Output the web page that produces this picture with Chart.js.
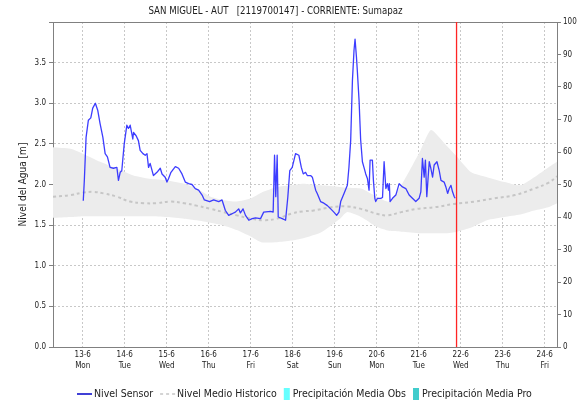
<!DOCTYPE html>
<html lang="es">
<head>
<meta charset="utf-8">
<title>SAN MIGUEL - AUT - Nivel del Agua</title>
<script src="https://cdn.jsdelivr.net/npm/chart.js@4.4.0/dist/chart.umd.min.js"></script>
<style>
  html, body { margin: 0; padding: 0; background: #fff; }
  #contenedor { width: 582px; height: 404px; }
</style>
</head>
<body>
<div id="contenedor"><canvas id="nivelChart" width="582" height="404"></canvas></div>
<script>
// nivel-san-miguel.js
// horas contadas desde el 13-6 a las 00:00

const fechas = ["13-6", "14-6", "15-6", "16-6", "17-6", "18-6", "19-6", "20-6", "21-6", "22-6", "23-6", "24-6"];
const diasSemana = ["Mon", "Tue", "Wed", "Thu", "Fri", "Sat", "Sun", "Mon", "Tue", "Wed", "Thu", "Fri"];

const nivelTicks = [0, 0.5, 1, 1.5, 2, 2.5, 3, 3.5, 4];
const precipTicks = [0, 10, 20, 30, 40, 50, 60, 70, 80, 90, 100];

const horaInicio = -17;
const horaFin = 271;
const horaActual = 213.6;

const sensorHoras = [
  0.3, 0.9, 1.9, 3.2, 4.6, 5.7, 7.2, 8.6, 9.9, 11.5, 12.8, 14.1, 15.6, 17.5, 19.5, 20.4, 21.4, 22.3,
  23.7, 25.2, 26.1, 27.1, 28.6, 29.0, 30.5, 31.8, 32.8, 34.4, 35.7, 36.7, 37.6, 38.5, 40.4, 42.4,
  44.3, 45.3, 47.1, 48.1, 49.0, 50.4, 52.9, 54.8, 56.7, 58.6, 60.5, 62.4, 64.3, 66.2, 68.2, 69.5,
  72.5, 74.8, 77.7, 79.6, 81.5, 83.4, 85.3, 87.2, 89.1, 90.1, 91.6, 93.0, 94.9, 96.8, 98.7, 101.6,
  103.4, 107.3, 108.8, 109.6, 110.3, 111.1, 111.7, 114.0, 115.9, 117.2, 118.3, 119.7, 121.6, 123.5,
  124.9, 126.0, 127.3, 128.3, 130.2, 131.2, 133.1, 134.0, 135.9, 137.8, 139.8, 141.7, 143.5, 145.1,
  146.4, 147.4, 149.3, 151.2, 152.1, 153.1, 154.1, 155.0, 155.6, 156.4, 156.9, 157.9, 158.8, 159.8,
  160.7, 161.7, 162.7, 163.6, 164.2, 165.5, 166.1, 166.9, 167.4, 168.4, 170.3, 171.3, 172.2, 173.2,
  174.1, 174.7, 175.2, 175.6, 177.0, 178.9, 180.8, 182.7, 184.6, 186.5, 188.4, 190.3, 192.2, 193.2,
  194.1, 195.1, 195.8, 196.6, 197.4, 198.0, 198.9, 199.9, 200.8, 202.4, 203.7, 204.7, 206.5, 207.5,
  208.5, 209.4, 210.4, 211.3, 212.3, 212.8
];
const sensorNivel = [
  1.80, 2.05, 2.58, 2.79, 2.82, 2.94, 3.00, 2.91, 2.75, 2.58, 2.38, 2.34, 2.21, 2.20, 2.21, 2.05, 2.15, 2.17,
  2.50, 2.73, 2.69, 2.73, 2.56, 2.64, 2.60, 2.54, 2.42, 2.38, 2.36, 2.38, 2.21, 2.26, 2.11, 2.15,
  2.20, 2.13, 2.09, 2.03, 2.07, 2.15, 2.22, 2.20, 2.13, 2.03, 2.01, 2.00, 1.95, 1.93, 1.87, 1.81,
  1.79, 1.81, 1.79, 1.81, 1.68, 1.62, 1.64, 1.66, 1.70, 1.65, 1.70, 1.62, 1.56, 1.58, 1.59, 1.58,
  1.66, 1.67, 1.66, 2.36, 1.85, 2.36, 1.60, 1.58, 1.56, 1.85, 2.17, 2.21, 2.38, 2.36,
  2.21, 2.13, 2.15, 2.11, 2.11, 2.09, 1.93, 1.89, 1.79, 1.77, 1.74, 1.70, 1.66, 1.62,
  1.66, 1.79, 1.89, 1.99, 2.21, 2.54, 3.28, 3.65, 3.79, 3.57, 3.40, 3.03, 2.55, 2.28,
  2.21, 2.13, 2.07, 1.93, 2.30, 2.30, 2.05, 1.83, 1.79, 1.83, 1.83, 1.84, 2.28, 1.95,
  2.01, 1.93, 2.01, 1.79, 1.83, 1.87, 2.01, 1.97, 1.95, 1.87, 1.83, 1.79, 1.83, 1.91,
  2.32, 2.09, 2.30, 1.85, 2.10, 2.28, 2.20, 2.09, 2.24, 2.28, 2.17, 2.05, 2.03, 1.97,
  1.89, 1.95, 1.99, 1.91, 1.85, 1.83
];

const historicoHoras = [
  -17, -7, 0, 6, 12, 19.5, 27, 35, 42, 50, 58, 65, 73, 80.5, 88, 96, 103.5, 111, 119, 126,
  132, 142, 151, 159, 168, 174, 182, 191, 201, 212, 224, 235, 247, 258, 266, 271
];
const historicoMedio = [
  1.85, 1.87, 1.90, 1.91, 1.89, 1.85, 1.79, 1.77, 1.77, 1.79, 1.77, 1.74, 1.70, 1.66, 1.62, 1.58, 1.56, 1.58, 1.64, 1.67,
  1.68, 1.72, 1.73, 1.70, 1.64, 1.62, 1.66, 1.70, 1.72, 1.76, 1.79, 1.83, 1.87, 1.95, 2.02, 2.10
];

const bandaHoras = [
  -17, -7, 0, 10, 20, 29, 38, 48, 58, 65, 73, 80, 88, 96, 102, 111, 119, 126,
  136, 147, 151, 159, 168, 175, 182, 193, 199, 207, 214, 222, 231, 241, 250, 258, 266, 271
];
const bandaMax = [
  2.46, 2.44, 2.38, 2.28, 2.19, 2.11, 2.07, 2.05, 2.01, 1.95, 1.85, 1.81, 1.79, 1.83, 1.90, 1.97, 1.99, 2.01,
  1.99, 1.97, 1.96, 1.95, 1.85, 1.79, 1.99, 2.42, 2.67, 2.50, 2.34, 2.15, 2.09, 2.03, 1.99, 2.09, 2.21, 2.28
];
const bandaMin = [
  1.59, 1.60, 1.61, 1.61, 1.61, 1.61, 1.61, 1.60, 1.58, 1.56, 1.53, 1.50, 1.44, 1.36, 1.29, 1.29, 1.31, 1.34,
  1.41, 1.58, 1.66, 1.60, 1.48, 1.43, 1.42, 1.40, 1.40, 1.40, 1.42, 1.47, 1.56, 1.60, 1.63, 1.68, 1.72, 1.77
];

const titulo = "SAN MIGUEL - AUT   [2119700147] - CORRIENTE: Sumapaz";
const fuente = '"DejaVu Sans Condensed", "Liberation Sans Narrow", "DejaVu Sans", sans-serif';

const puntos = (xs, ys) => xs.map((x, i) => ({ x: x, y: ys[i] }));

// titulo y leyenda dibujados a mano: lineas de 15 px y cajas estrechas para la precipitacion
const textosFijos = {
  id: "textosFijos",
  afterDraw(chart) {
    const ctx = chart.ctx;
    ctx.save();
    ctx.fillStyle = "#222";
    ctx.textBaseline = "middle";
    ctx.textAlign = "center";
    ctx.font = `9.6px ${fuente}`;
    ctx.fillText(titulo, 275.5, 11.5);

    const y = chart.height - 10;
    let x = 77;
    ctx.textAlign = "left";
    ctx.font = `10.5px ${fuente}`;
    chart.data.datasets.filter((d) => d.label).forEach((d) => {
      if (d.type === "bar") {
        ctx.fillStyle = d.backgroundColor;
        ctx.fillRect(x, y - 6, 6, 12);
        x += 9;
      } else {
        ctx.strokeStyle = d.colorLeyenda || d.borderColor;
        ctx.lineWidth = 1.5;
        ctx.setLineDash(d.borderDash || []);
        ctx.beginPath();
        ctx.moveTo(x, y);
        ctx.lineTo(x + 15, y);
        ctx.stroke();
        ctx.setLineDash([]);
        x += 17;
      }
      ctx.fillStyle = "#222";
      ctx.fillText(d.label, x, y);
      x += ctx.measureText(d.label).width + 7;
    });
    ctx.restore();
  }
};

const ctx = document.getElementById("nivelChart").getContext("2d");

new Chart(ctx, {
  type: "line",
  data: {
    datasets: [
      {
        label: "Nivel Sensor",
        data: puntos(sensorHoras, sensorNivel),
        borderColor: "rgba(40, 40, 255, 0.9)",
        colorLeyenda: "#0000c8",
        borderWidth: 1.3,
        borderJoinStyle: "round",
        pointRadius: 0,
        tension: 0,
        fill: false,
        order: 1
      },
      {
        label: "Nivel Medio Historico",
        data: puntos(historicoHoras, historicoMedio),
        borderColor: "#c6c6c6",
        borderWidth: 2,
        borderDash: [3, 3],
        pointRadius: 0,
        tension: 0.4,
        fill: false,
        order: 2
      },
      {
        data: puntos(bandaHoras, bandaMax),
        borderWidth: 0,
        borderColor: "rgba(0,0,0,0)",
        backgroundColor: "#ececec",
        pointRadius: 0,
        tension: 0.2,
        fill: "+1",
        order: 4
      },
      {
        data: puntos(bandaHoras, bandaMin),
        borderWidth: 0,
        borderColor: "rgba(0,0,0,0)",
        pointRadius: 0,
        tension: 0.2,
        fill: false,
        order: 5
      },
      {
        // momento actual
        data: [{ x: horaActual, y: 0 }, { x: horaActual, y: 4 }],
        borderColor: "#ff2424",
        borderWidth: 1.3,
        pointRadius: 0,
        fill: false,
        order: 0
      },
      {
        type: "bar",
        label: "Precipitación Media Obs",
        data: [],
        backgroundColor: "#66ffff",
        yAxisID: "y1",
        order: 6
      },
      {
        type: "bar",
        label: "Precipitación Media Pro",
        data: [],
        backgroundColor: "#40cccc",
        yAxisID: "y1",
        order: 7
      }
    ]
  },
  options: {
    responsive: false,
    animation: false,
    events: [],
    layout: { padding: { left: 0, right: 0, top: 22, bottom: 27 } },
    plugins: {
      legend: { display: false },
      tooltip: { enabled: false },
      title: { display: false }
    },
    scales: {
      x: {
        type: "linear",
        position: "bottom",
        min: horaInicio,
        max: horaFin,
        offset: false,
        afterBuildTicks: (scale) => {
          scale.ticks = fechas.map((f, i) => ({ value: i * 24 }));
        },
        afterFit: (scale) => { scale.height = 30; },
        ticks: {
          autoSkip: false,
          maxRotation: 0,
          padding: 3,
          color: "#222",
          font: { family: fuente, size: 8, lineHeight: 1.35 },
          callback: (v) => {
            const i = Math.round(v / 24);
            return [fechas[i], diasSemana[i]];
          }
        },
        grid: { color: "#c8c8c8", drawTicks: false, offset: false },
        border: { color: "#808080", dash: [2, 2] }
      },
      xTop: {
        type: "linear",
        position: "top",
        min: horaInicio,
        max: horaFin,
        afterFit: (scale) => { scale.height = 0; },
        ticks: { display: false },
        grid: { drawOnChartArea: false, drawTicks: false },
        border: { color: "#808080" }
      },
      y: {
        position: "left",
        min: 0,
        max: 4,
        afterBuildTicks: (scale) => {
          scale.ticks = nivelTicks.map((v) => ({ value: v }));
        },
        afterFit: (scale) => { scale.width = 53; },
        title: {
          display: true,
          text: "Nivel del Agua [m]",
          color: "#222",
          font: { family: fuente, size: 10 },
          padding: { top: 17, bottom: 0 }
        },
        ticks: {
          padding: 3,
          color: "#222",
          font: { family: fuente, size: 8 },
          callback: (v) => (v >= 4 ? "" : v.toFixed(1))
        },
        grid: { color: "#c8c8c8", tickColor: "#808080", tickLength: 4, tickBorderDash: [] },
        border: { color: "#808080", dash: [2, 2] }
      },
      y1: {
        position: "right",
        min: 0,
        max: 100,
        afterBuildTicks: (scale) => {
          scale.ticks = precipTicks.map((v) => ({ value: v }));
        },
        afterFit: (scale) => { scale.width = 25; },
        ticks: {
          padding: 2,
          color: "#222",
          font: { family: fuente, size: 8 }
        },
        grid: { drawOnChartArea: false, tickColor: "#808080", tickLength: 4, tickBorderDash: [] },
        border: { color: "#808080" }
      }
    }
  },
  plugins: [textosFijos]
});
</script>
</body>
</html>
